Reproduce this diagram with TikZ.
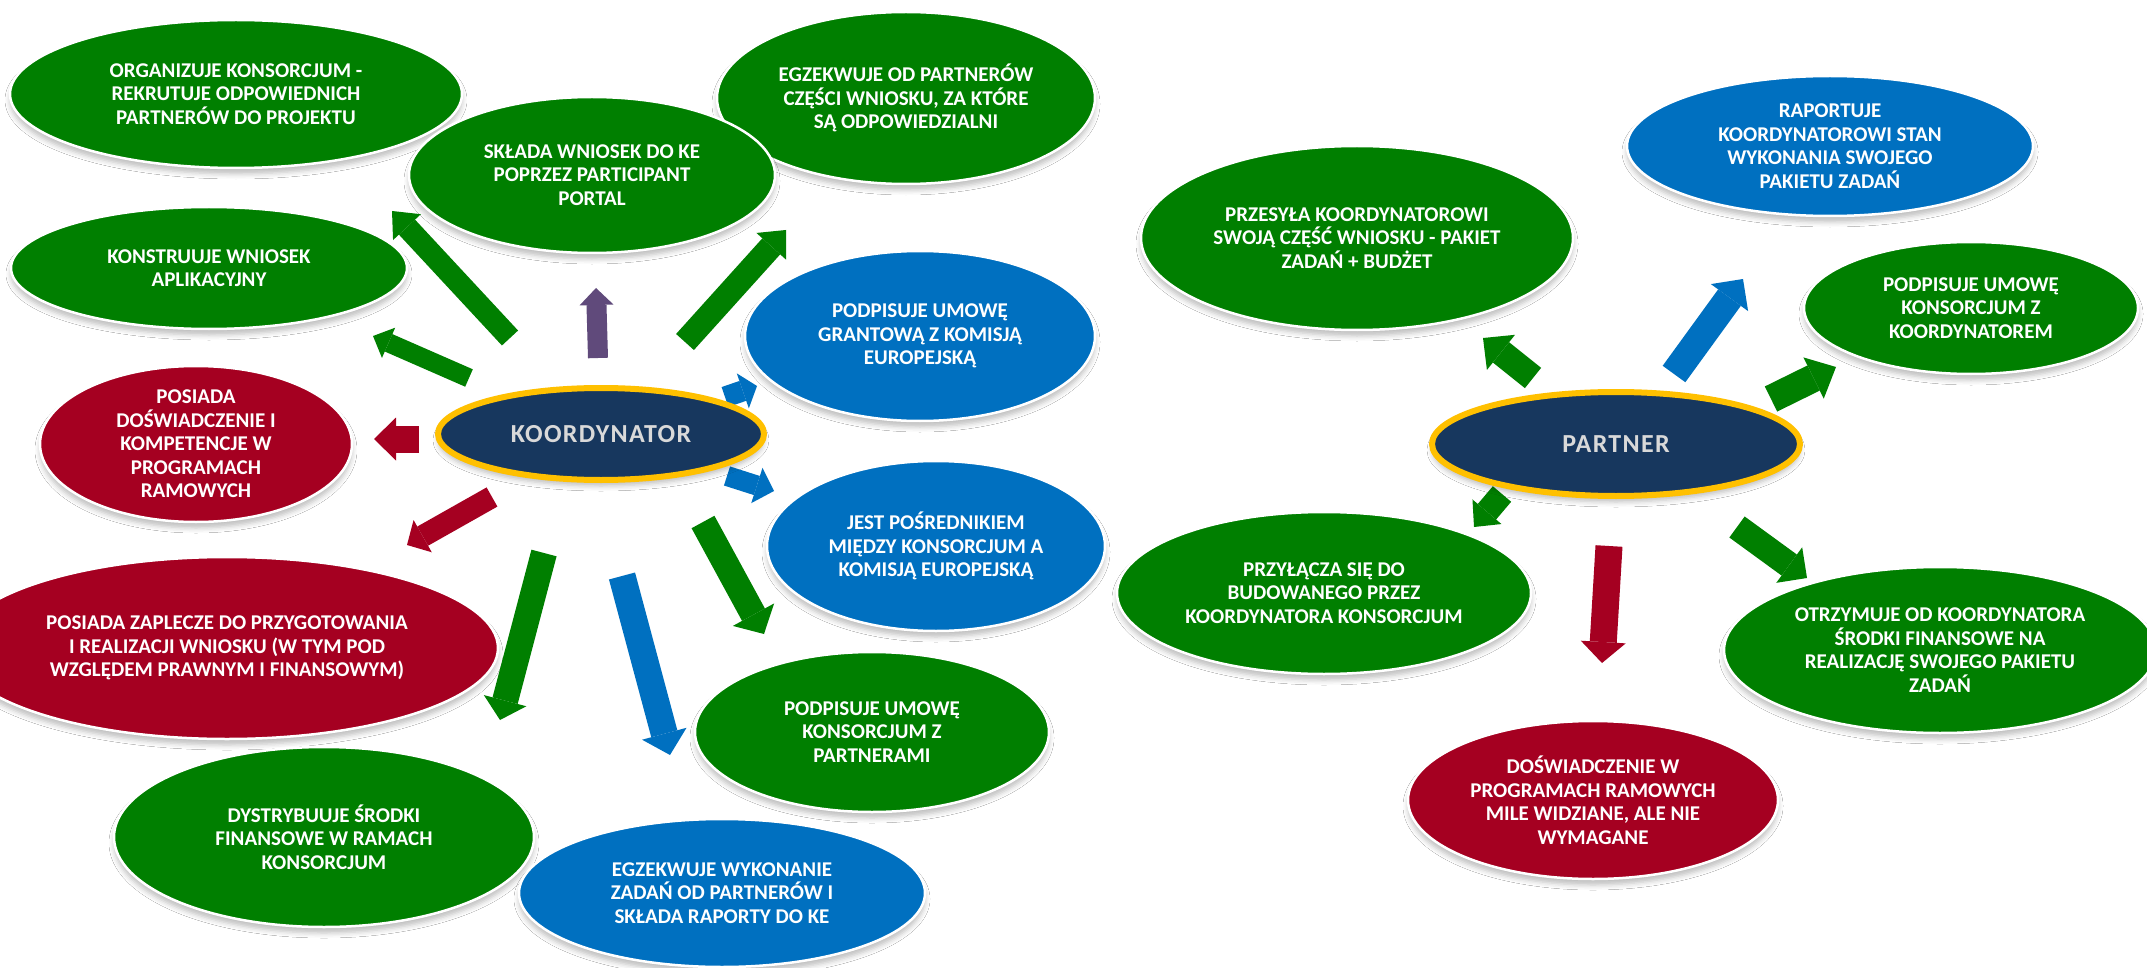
\documentclass[tikz,border=0pt]{standalone}
\usepackage{fontspec}
\setmainfont{Carlito}
\newfontfamily\hubfont[LetterSpace=5]{Carlito}
\usetikzlibrary{shapes.geometric,arrows.meta,shadows.blur}
\definecolor{bgreen}{HTML}{007F00}
\definecolor{bblue}{HTML}{0070C0}
\definecolor{bred}{HTML}{A50021}
\definecolor{bnavy}{HTML}{17375E}
\definecolor{bgold}{HTML}{FFC000}
\definecolor{bpurple}{HTML}{604A7B}
\definecolor{blabel}{HTML}{D9D9D9}
\tikzset{
  bubble/.style={ellipse, draw=white, line width=2.5pt, inner sep=0pt, outer sep=0pt,
    blur shadow={shadow xshift=0pt, shadow yshift=-6pt, shadow blur radius=5pt, shadow opacity=25}},
  btext/.style={text=white, align=center, font=\fontsize{21}{23.5}\selectfont\bfseries, inner sep=0pt},
  hub/.style={ellipse, fill=bnavy, draw=bgold, line width=6pt, inner sep=0pt,
    blur shadow={shadow xshift=0pt, shadow yshift=-6pt, shadow blur radius=5pt, shadow opacity=25}},
  hubtext/.style={text=blabel, font=\hubfont\bfseries\fontsize{26}{30}\selectfont, inner sep=0pt},
  blockarrow/.style n args={3}{line width=#1, -{Triangle[width=#2, length=#3, line width=0pt]}},
}
\newcommand\bubble[7]{%
  \node[bubble, fill=#2, minimum width=2*#5*1pt, minimum height=2*#6*1pt] (#1) at (#3,#4) {};
  \node[btext] (#1-t) at (#1) {#7};}
\newcommand\blockarr[9]{%
  \coordinate (#1-s) at (#2,#3);
  \coordinate (#1-e) at (#4,#5);
  \draw[blockarrow={#6pt}{#7pt}{#8pt}, draw=#9] (#1-s) -- (#1-e);}
\begin{document}
\begin{tikzpicture}[x=1pt,y=-1pt]
\useasboundingbox (0,0) rectangle (2147,968);
\clip (0,0) rectangle (2147,968);
\fill[white] (0,0) rectangle (2147,968);

% ---- Koordynator bubbles ----
\bubble{org}{bgreen}{236}{94}{226}{74}{ORGANIZUJE KONSORCJUM -\\REKRUTUJE  ODPOWIEDNICH\\PARTNERÓW  DO PROJEKTU}
\bubble{egzod}{bgreen}{906}{98}{189}{86}{EGZEKWUJE OD PARTNERÓW\\CZĘŚCI WNIOSKU, ZA KTÓRE\\SĄ ODPOWIEDZIALNI}
\bubble{sklada}{bgreen}{592}{175}{183}{78}{SKŁADA WNIOSEK DO KE\\POPRZEZ PARTICIPANT\\PORTAL}
\bubble{konstr}{bgreen}{209}{268}{198}{61}{KONSTRUUJE WNIOSEK\\APLIKACYJNY}
\bubble{grant}{bblue}{920}{336}{175}{85}{PODPISUJE UMOWĘ\\GRANTOWĄ Z KOMISJĄ\\EUROPEJSKĄ}
\bubble{dosw}{bred}{196}{444}{156}{78}{POSIADA\\DOŚWIADCZENIE I\\KOMPETENCJE W\\PROGRAMACH\\RAMOWYCH}
\bubble{jest}{bblue}{936}{546}{169}{85}{JEST POŚREDNIKIEM\\MIĘDZY KONSORCJUM A\\KOMISJĄ EUROPEJSKĄ}
\bubble{zapl}{bred}{227}{648}{271}{91}{POSIADA ZAPLECZE DO PRZYGOTOWANIA\\I REALIZACJI WNIOSKU (W TYM POD\\WZGLĘDEM PRAWNYM I FINANSOWYM)}
\bubble{dystr}{bgreen}{324}{837}{210}{90}{DYSTRYBUUJE ŚRODKI\\FINANSOWE W RAMACH\\KONSORCJUM}
\bubble{egzwyk}{bblue}{722}{893}{203}{74}{EGZEKWUJE WYKONANIE\\ZADAŃ OD PARTNERÓW I\\SKŁADA RAPORTY DO KE}
\bubble{podpp}{bgreen}{872}{732}{177}{80}{PODPISUJE UMOWĘ\\KONSORCJUM Z\\PARTNERAMI}

% ---- Partner bubbles ----
\bubble{przes}{bgreen}{1357}{238}{216}{92}{PRZESYŁA KOORDYNATOROWI\\SWOJĄ CZĘŚĆ WNIOSKU - PAKIET\\ZADAŃ + BUDŻET}
\bubble{rap}{bblue}{1830}{146}{203}{70}{RAPORTUJE\\KOORDYNATOROWI STAN\\WYKONANIA SWOJEGO\\PAKIETU ZADAŃ}
\bubble{podpk}{bgreen}{1971}{308}{167}{66}{PODPISUJE UMOWĘ\\KONSORCJUM  Z\\KOORDYNATOREM}
\bubble{przyl}{bgreen}{1324}{593}{207}{81}{PRZYŁĄCZA SIĘ DO\\BUDOWANEGO PRZEZ\\KOORDYNATORA KONSORCJUM}
\bubble{otrz}{bgreen}{1940}{650}{216}{83}{OTRZYMUJE OD KOORDYNATORA\\ŚRODKI FINANSOWE NA\\REALIZACJĘ SWOJEGO PAKIETU\\ZADAŃ}
\bubble{pdosw}{bred}{1593}{800}{185}{79}{DOŚWIADCZENIE W\\PROGRAMACH RAMOWYCH\\MILE WIDZIANE, ALE NIE\\WYMAGANE}

% ---- Koordynator arrows ----
\blockarr{a1}{510}{338}{392}{211}{22}{38}{22}{bgreen}
\blockarr{a2}{685}{342}{786}{230}{24}{40}{22}{bgreen}
\blockarr{a3}{469}{378}{373}{336}{19}{33}{17}{bgreen}
\blockarr{a4}{419}{439}{374}{439}{27}{43}{22}{bred}
\blockarr{a5}{598}{358}{596}{288}{20}{34}{17}{bpurple}
\blockarr{a6}{725}{397}{757}{386}{21}{37}{15}{bblue}
\blockarr{a7}{727}{476}{774}{491}{20}{37}{18}{bblue}
\blockarr{a8}{492}{497}{407}{545}{22}{37}{18}{bred}
\blockarr{a9}{544}{553}{500}{720}{26}{44}{20}{bgreen}
\blockarr{a10}{622}{576}{670}{755}{27}{46}{22}{bblue}
\blockarr{a11}{703}{522}{764}{634}{26}{47}{22}{bgreen}

% ---- Partner arrows ----
\blockarr{p1}{1533}{378}{1483}{338}{26}{45}{23}{bgreen}
\blockarr{p2}{1674}{374}{1743}{279}{28}{46}{23}{bblue}
\blockarr{p3}{1771}{399}{1836}{367}{28}{46}{25}{bgreen}
\blockarr{p4}{1502}{494}{1474}{527}{24}{38}{20}{bgreen}
\blockarr{p5}{1609}{546}{1602}{663}{27}{45}{21}{bred}
\blockarr{p6}{1737}{527}{1807}{578}{26}{44}{22}{bgreen}

% ---- Hubs ----
\node[hub, minimum width=326pt, minimum height=92pt] (koord) at (601,434) {};
\node[hubtext] (koord-t) at (koord) {KOORDYNATOR};
\node[hub, minimum width=368pt, minimum height=104pt] (partner) at (1616,444) {};
\node[hubtext] (partner-t) at (partner) {PARTNER};
\end{tikzpicture}
\end{document}
